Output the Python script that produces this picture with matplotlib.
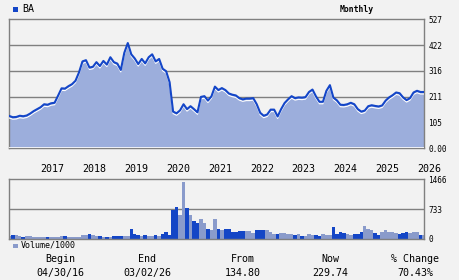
import matplotlib
matplotlib.use("Agg")
import matplotlib.pyplot as plt
import matplotlib.transforms as mtransforms
import numpy as np

# Monthly closes, Apr 2016 .. Mar 2026
price = [132, 127, 128, 133, 131, 134, 142, 152, 160, 168, 180, 178,
         184, 186, 215, 245, 244, 254, 262, 276, 310, 355, 360, 330,
         333, 352, 336, 357, 342, 372, 352, 346, 320, 390, 430, 384,
         367, 344, 365, 347, 372, 384, 355, 365, 325, 315, 270, 150,
         143, 155, 180, 160, 172, 160, 147, 210, 213, 195, 212, 252,
         238, 246, 238, 224, 219, 216, 205, 200, 203, 203, 205, 180,
         145, 133, 138, 158, 158, 130, 160, 185, 200, 213, 205, 208,
         207, 209, 230, 240, 212, 190, 190, 235, 258, 207, 196, 178,
         177, 180, 186, 180, 160, 150, 154, 172, 176, 173, 171, 175,
         195, 208, 217, 228, 225, 208, 197, 205, 228, 235, 230, 230]

# Monthly volume / 1000
volume = [74, 98, 98, 74, 49, 74, 74, 49, 49, 49, 49, 49,
          49, 49, 49, 74, 74, 49, 49, 49, 49, 98, 98, 123,
          98, 74, 74, 49, 49, 49, 74, 74, 74, 74, 74, 246,
          123, 98, 74, 98, 74, 74, 98, 74, 123, 172, 98, 713,
          786, 590, 1400, 762, 590, 442, 393, 491, 393, 246, 221, 491,
          246, 221, 246, 246, 172, 164, 197, 197, 197, 197, 147, 221,
          221, 221, 221, 172, 123, 123, 147, 147, 123, 123, 98, 123,
          74, 74, 123, 98, 98, 74, 123, 98, 98, 295, 123, 172,
          147, 123, 98, 123, 123, 172, 319, 246, 221, 147, 98, 172,
          221, 164, 172, 147, 123, 147, 172, 147, 172, 172, 98, 98]

years = [2017, 2018, 2019, 2020, 2021, 2022, 2023, 2024, 2025, 2026]
price_ticks = [0, 105, 211, 316, 422, 527]
price_tick_labels = ["0.00", "105", "211", "316", "422", "527"]
vol_ticks = [0, 733, 1466]
vol_tick_labels = ["0", "733", "1466"]

symbol = "BA"
period = "Monthly"
begin_date, end_date = "04/30/16", "03/02/26"
from_val, now_val, pct_change = "134.80", "229.74", "70.43%"

BG = "#f2f2f2"
GRID = "#808080"
LINE = "#1446c8"
FILL = "#9caedc"
DARK = "#1446c6"
LIGHT = "#8a9bcb"
FONT = "DejaVu Sans Mono"

W, H = 460, 280
fig = plt.figure(figsize=(W / 100, H / 100), dpi=100, facecolor=BG)

def rect(l, t, r, b):
    return [l / W, 1 - b / H, (r - l) / W, (b - t) / H]

x = np.arange(len(price))
n = len(price)

# ---- price panel
ax = fig.add_axes(rect(9.3, 19.3, 424, 148.3))
ax.set_facecolor(BG)
ax.set_xlim(0, n - 1)
ax.set_ylim(0, 527)
for v in price_ticks[1:-1]:
    ax.axhline(v, color=GRID, lw=1.0, zorder=1)
ax.fill_between(x, 0, price, color=FILL, lw=0, zorder=2)
off = mtransforms.offset_copy(ax.transData, fig=fig, x=0, y=-2, units="dots")
ax.plot(x, price, color="white", lw=0.8, zorder=3, transform=off)
ax.plot(x, price, color=LINE, lw=1.5, zorder=4)
ax.axhline(0, color="white", lw=1.2, zorder=3)
ax.yaxis.tick_right()
ax.set_yticks(price_ticks)
ax.set_yticklabels(price_tick_labels, family=FONT, fontsize=5.6)
ax.tick_params(axis="y", length=0, pad=3)
ax.set_xticks([])
for s in ax.spines.values():
    s.set_color(GRID)
    s.set_linewidth(1.0)

# ---- volume panel
axv = fig.add_axes(rect(9.3, 179.3, 424, 239))
axv.set_facecolor(BG)
axv.set_xlim(0, n - 1)
axv.set_ylim(0, 1466)
axv.axhline(733, color=GRID, lw=1.0, zorder=1)
colors = [LIGHT] + [DARK if price[i] < price[i - 1] else LIGHT for i in range(1, n)]
axv.bar(x, volume, width=1.0, color=colors, lw=0, zorder=2)
axv.yaxis.tick_right()
axv.set_yticks(vol_ticks)
axv.set_yticklabels(vol_tick_labels, family=FONT, fontsize=5.6)
axv.tick_params(axis="y", length=0, pad=3)
axv.xaxis.tick_top()
year_pos = [(y - 2016) * 12 - 3 for y in years]
axv.set_xticks(year_pos)
axv.set_xticklabels([str(y) for y in years], family=FONT, fontsize=7.2, ha="left")
axv.tick_params(axis="x", length=0, pad=4)
for s in axv.spines.values():
    s.set_color(GRID)
    s.set_linewidth(1.0)

# ---- header / legends
def px(xp, yp):
    return xp / W, 1 - yp / H

fig.patches.append(plt.Rectangle(px(13, 12), 4.5 / W, 4.5 / H, transform=fig.transFigure,
                                 color=LINE, lw=0))
fig.text(*px(22, 9.5), symbol, family=FONT, fontsize=7.2, va="center", ha="left")
fig.text(*px(357, 9.5), period, family=FONT, fontsize=5.9, va="center", ha="center",
         weight="bold")
fig.patches.append(plt.Rectangle(px(13, 248), 4.5 / W, 4.5 / H, transform=fig.transFigure,
                                 color=LIGHT, lw=0))
fig.text(*px(20.5, 245.5), "Volume/1000", family=FONT, fontsize=6.0, va="center", ha="left")

# ---- footer
cols = [(60, "Begin", begin_date), (147, "End", end_date), (243, "From", from_val),
        (330, "Now", now_val), (415, "% Change", pct_change)]
for cx, head, val in cols:
    fig.text(*px(cx, 259), head, family=FONT, fontsize=7.2, va="center", ha="center")
    fig.text(*px(cx, 273), val, family=FONT, fontsize=7.2, va="center", ha="center")

fig.savefig("out.png", dpi=100, facecolor=BG)
